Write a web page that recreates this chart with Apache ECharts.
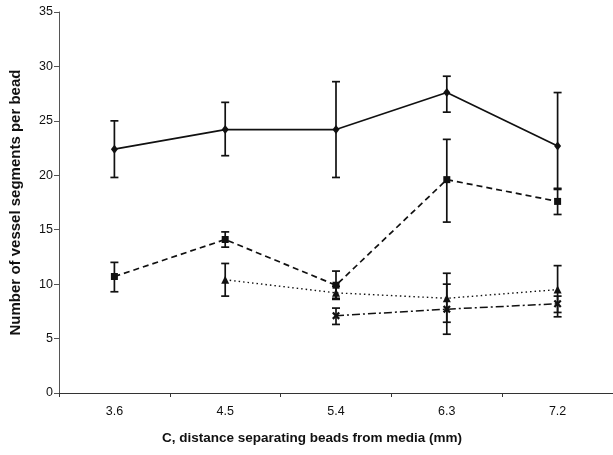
<!DOCTYPE html>
<html lang="en">
<head>
    <meta charset="UTF-8">
    <title>vessel segments</title>
    <script src="https://cdn.jsdelivr.net/npm/echarts@6/dist/echarts.min.js"></script>
    <style>
        html, body { margin: 0; padding: 0; background: #fff; }
        #chart { width: 613px; height: 455px; }
    </style>
</head>
<body>
<div id="chart"></div>
<script type="text/javascript">
    // distance categories (mm)
    var categories = ['3.6', '4.5', '5.4', '6.3', '7.2'];

    // solid line, diamonds
    var solidMean = [22.4, 24.2, 24.2, 27.6, 22.7];
    var solidLow = [19.8, 21.8, 19.8, 25.8, 18.8];
    var solidHigh = [25.0, 26.7, 28.6, 29.1, 27.6];

    // dashed line, squares
    var dashMean = [10.7, 14.1, 9.9, 19.6, 17.6];
    var dashLow = [9.3, 13.4, 8.7, 15.7, 16.4];
    var dashHigh = [12.0, 14.8, 11.2, 23.3, 18.7];

    // dotted line, triangles
    var dotMean = [null, 10.4, 9.2, 8.7, 9.5];
    var dotLow = [null, 8.9, 8.6, 6.5, 7.4];
    var dotHigh = [null, 11.9, 9.8, 11.0, 11.7];

    // dash-dot line, crosses
    var dashDotMean = [null, null, 7.1, 7.7, 8.2];
    var dashDotLow = [null, null, 6.3, 5.4, 7.0];
    var dashDotHigh = [null, null, 7.8, 10.0, 8.9];

    var yTicks = [0, 5, 10, 15, 20, 25, 30, 35];

    var ink = '#111';
    var crossPath = 'path://M2,0 L5,3 L8,0 L10,2 L7,5 L10,8 L8,10 L5,7 L2,10 L0,8 L3,5 L0,2Z';

    function errData(low, high) {
        var out = [];
        for (var i = 0; i < low.length; i++) {
            if (low[i] != null) out.push([i, low[i], high[i]]);
        }
        return out;
    }

    // vertical bar with caps
    function renderErr(params, api) {
        var lo = api.coord([api.value(0), api.value(1)]);
        var hi = api.coord([api.value(0), api.value(2)]);
        var w = 4;
        var st = { stroke: ink, lineWidth: 1.7 };
        return {
            type: 'group',
            children: [
                { type: 'line', shape: { x1: lo[0], y1: lo[1], x2: hi[0], y2: hi[1] }, style: st },
                { type: 'line', shape: { x1: lo[0] - w, y1: lo[1], x2: lo[0] + w, y2: lo[1] }, style: st },
                { type: 'line', shape: { x1: hi[0] - w, y1: hi[1], x2: hi[0] + w, y2: hi[1] }, style: st }
            ]
        };
    }

    function errSeries(low, high) {
        return {
            type: 'custom',
            renderItem: renderErr,
            encode: { x: 0, y: [1, 2] },
            data: errData(low, high),
            silent: true,
            z: 1
        };
    }

    function lineSeries(data, symbol, size, lineType, width) {
        return {
            type: 'line',
            data: data,
            symbol: symbol,
            symbolSize: size,
            connectNulls: false,
            itemStyle: { color: ink },
            lineStyle: { color: ink, width: width, type: lineType },
            z: 3
        };
    }

    var chart = echarts.init(document.getElementById('chart'));
    var option = {
        backgroundColor: '#fff',
        animation: false,
        textStyle: { fontFamily: 'Liberation Sans, Arial, sans-serif' },
        grid: { left: 58, right: -6, top: 12, bottom: 62 },
        xAxis: {
            type: 'category',
            data: categories,
            boundaryGap: true,
            name: 'C, distance separating beads from media (mm)',
            nameLocation: 'middle',
            nameGap: 38,
            nameTextStyle: { fontSize: 13.5, fontWeight: 'bold', color: ink, padding: [0, 48, 0, 0] },
            axisLine: { lineStyle: { color: '#333', width: 1 } },
            axisTick: { show: true, alignWithLabel: false, length: 4, inside: false, lineStyle: { color: '#333' } },
            axisLabel: { fontSize: 12.5, color: ink, margin: 12 },
            splitLine: { show: false }
        },
        yAxis: {
            type: 'value',
            min: yTicks[0],
            max: yTicks[yTicks.length - 1],
            interval: 5,
            name: 'Number of vessel segments per bead',
            nameLocation: 'middle',
            nameGap: 36,
            nameRotate: 90,
            nameTextStyle: { fontSize: 15, fontWeight: 'bold', color: ink },
            axisLine: { show: true, lineStyle: { color: '#555', width: 1 } },
            axisTick: { show: true, length: 5, lineStyle: { color: '#555' } },
            axisLabel: { fontSize: 12.5, color: ink, margin: 6 },
            splitLine: { show: false }
        },
        series: [
            errSeries(solidLow, solidHigh),
            errSeries(dashLow, dashHigh),
            errSeries(dotLow, dotHigh),
            errSeries(dashDotLow, dashDotHigh),
            lineSeries(solidMean, 'diamond', [7, 9], 'solid', 1.7),
            lineSeries(dashMean, 'rect', 7, [6, 4], 1.7),
            lineSeries(dotMean, 'triangle', 8, [1.5, 3], 1.4),
            lineSeries(dashDotMean, crossPath, 8, [8, 3, 2, 3], 1.5)
        ]
    };
    chart.setOption(option);
</script>
</body>
</html>
